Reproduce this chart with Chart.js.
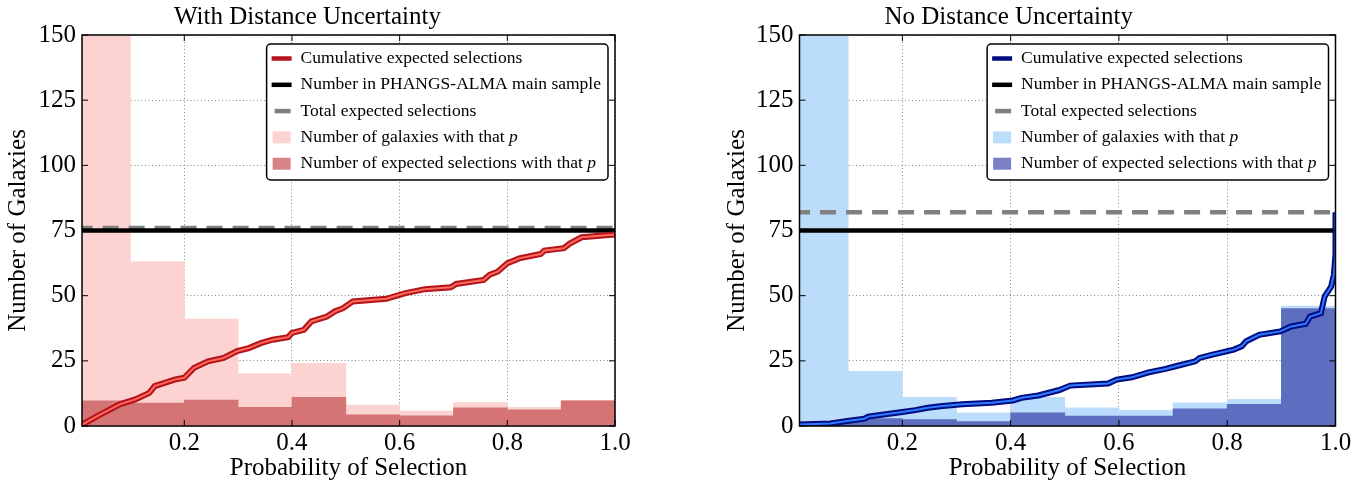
<!DOCTYPE html>
<html>
<head>
<meta charset="utf-8">
<title>Probability of Selection</title>
<script src="https://cdn.jsdelivr.net/npm/chart.js@4.4.0/dist/chart.umd.min.js"></script>
<style>
    html, body { margin: 0; padding: 0; background: #fff; }
    .wrap { display: flex; width: 1364px; height: 487px; }
    .panel { width: 682px; height: 487px; }
</style>
</head>
<body>
<div class="wrap">
    <div class="panel"><canvas id="withDistChart" width="682" height="487"></canvas></div>
    <div class="panel"><canvas id="noDistChart" width="682" height="487"></canvas></div>
</div>
<script>
// histogram bins (centre of each 0.1 wide bin)
const binCenters = [0.05, 0.15, 0.25, 0.35, 0.45, 0.55, 0.65, 0.75, 0.85, 0.95];
const xTicks = [0.2, 0.4, 0.6, 0.8, 1.0];
const yTicks = [0, 25, 50, 75, 100, 125, 150];

// with distance uncertainty
const galaxiesWithDist = [230, 63, 41, 20, 24, 8, 5.8, 9, 7.2, 9.8];
const expectedWithDist = [9.7, 8.8, 9.9, 7.2, 11, 4.3, 3.9, 7, 6.2, 9.7];
const cumPWithDist = [0.011, 0.04, 0.08, 0.109, 0.135, 0.145, 0.182, 0.2, 0.218, 0.244, 0.273, 0.298, 0.32, 0.342, 0.364, 0.393, 0.4, 0.422, 0.436, 0.465, 0.48, 0.495, 0.513, 0.575, 0.611, 0.647, 0.695, 0.705, 0.756, 0.767, 0.782, 0.8, 0.822, 0.862, 0.869, 0.905, 0.916, 0.938, 1.0];
const cumNWithDist = [0.6, 4, 8.3, 10.2, 12.7, 15.3, 17.8, 18.5, 22.3, 24.8, 26.1, 28.7, 29.9, 31.8, 33.1, 34.1, 35.7, 36.9, 40.1, 42, 44, 45.2, 47.8, 48.8, 51, 52.5, 53.2, 54.5, 56, 58, 59.2, 62.4, 64.3, 66, 67.3, 68.2, 70, 72.4, 73.5];
const totalWithDist = 76;

// no distance uncertainty
const galaxiesNoDist = [290, 21, 11, 5.1, 11, 7, 6, 8.9, 10.2, 46];
const expectedNoDist = [0.8, 2.8, 2.5, 1.7, 5.1, 3.8, 3.8, 6.6, 8.3, 45];
const cumPNoDist = [0.008, 0.067, 0.098, 0.13, 0.137, 0.169, 0.2, 0.224, 0.247, 0.27, 0.31, 0.365, 0.404, 0.42, 0.451, 0.49, 0.51, 0.58, 0.596, 0.624, 0.655, 0.686, 0.71, 0.741, 0.749, 0.773, 0.812, 0.827, 0.835, 0.859, 0.898, 0.918, 0.945, 0.953, 0.973, 0.98, 0.992, 0.997, 1.0, 1.0];
const cumNNoDist = [0.6, 1, 1.9, 2.8, 3.6, 4.5, 5.4, 6.1, 7, 7.6, 8.3, 8.9, 9.8, 10.8, 11.7, 13.8, 15.5, 16.3, 17.8, 18.7, 20.6, 21.9, 23.2, 24.8, 26.1, 27.4, 29.3, 30.6, 32.5, 35, 36.3, 38.2, 39.2, 42, 43.3, 49.7, 53.5, 58, 66, 82];
const totalNoDist = 82;

// PHANGS-ALMA main sample size
const mainSample = 75;

const legendLabels = ['Cumulative expected selections', 'Number in PHANGS-ALMA main sample', 'Total expected selections', 'Number of galaxies with that ', 'Number of expected selections with that '];

const serif = "'Liberation Serif', 'DejaVu Serif', serif";
Chart.defaults.font.family = serif;
Chart.defaults.color = '#000';

// frame, inward ticks and boxed legend (matplotlib look)
const framePlugin = {
    id: 'frame',
    afterDraw(chart) {
        const ctx = chart.ctx;
        const area = chart.chartArea;
        const xs = chart.scales.x;
        const ys = chart.scales.y;
        ctx.save();
        ctx.strokeStyle = '#000';
        ctx.lineWidth = 1;
        ctx.beginPath();
        xs.ticks.forEach(function (t) {
            const px = xs.getPixelForValue(t.value);
            ctx.moveTo(px, area.bottom); ctx.lineTo(px, area.bottom - 6);
            ctx.moveTo(px, area.top); ctx.lineTo(px, area.top + 6);
        });
        ys.ticks.forEach(function (t) {
            const py = ys.getPixelForValue(t.value);
            ctx.moveTo(area.left, py); ctx.lineTo(area.left + 6, py);
            ctx.moveTo(area.right, py); ctx.lineTo(area.right - 6, py);
        });
        ctx.stroke();
        ctx.lineWidth = 1.5;
        ctx.strokeRect(area.left, area.top, area.right - area.left, area.bottom - area.top);

        // legend
        const items = chart.data.datasets.filter(d => d.legendText).sort((a, b) => a.legendIndex - b.legendIndex);
        const font = '17.5px ' + serif;
        const italic = 'italic 17.5px ' + serif;
        let maxW = 0;
        items.forEach(function (d) {
            ctx.font = font;
            let w = ctx.measureText(d.legendText).width;
            if (d.legendItalic) {
                ctx.font = italic;
                w += ctx.measureText(d.legendItalic).width;
            }
            maxW = Math.max(maxW, w);
        });
        const boxW = 34 + maxW + 7;
        const boxH = 136;
        const bx = area.right - 7 - boxW;
        const by = area.top + 9;
        ctx.fillStyle = '#fff';
        ctx.strokeStyle = '#000';
        ctx.lineWidth = 1.5;
        ctx.beginPath();
        ctx.roundRect(bx, by, boxW, boxH, 4);
        ctx.fill();
        ctx.stroke();
        items.forEach(function (d, i) {
            const cy = by + 14.5 + i * 26.3;
            if (d.legendKind === 'box') {
                ctx.fillStyle = d.legendColor;
                ctx.fillRect(bx + 6, cy - 6, 18, 12);
            } else {
                ctx.strokeStyle = d.legendColor;
                ctx.lineWidth = 4.5;
                ctx.beginPath();
                if (d.legendKind === 'dash') {
                    ctx.moveTo(bx + 8, cy); ctx.lineTo(bx + 24, cy);
                } else {
                    ctx.moveTo(bx + 5, cy); ctx.lineTo(bx + 25, cy);
                }
                ctx.stroke();
            }
            ctx.fillStyle = '#000';
            ctx.textBaseline = 'middle';
            ctx.textAlign = 'left';
            ctx.font = font;
            ctx.fillText(d.legendText, bx + 34, cy);
            if (d.legendItalic) {
                const w = ctx.measureText(d.legendText).width;
                ctx.font = italic;
                ctx.fillText(d.legendItalic, bx + 34 + w, cy);
            }
        });
        ctx.restore();
    }
};

function toPoints(xs, ys) {
    return xs.map((x, i) => ({ x: x, y: ys[i] }));
}

function buildDatasets(galaxies, expected, cumP, cumN, total, colors) {
    return [
        {   // curve, bright core
            type: 'line', data: toPoints(cumP, cumN), borderColor: colors.curveCore, borderWidth: 2,
            pointRadius: 0, order: 0, clip: 0
        },
        {   // curve, dark outline
            type: 'line', data: toPoints(cumP, cumN), borderColor: colors.curve, borderWidth: 6,
            pointRadius: 0, order: 1, clip: 0,
            legendText: legendLabels[0], legendKind: 'line', legendColor: colors.curve, legendIndex: 0
        },
        {
            type: 'line', data: toPoints([0, 1], [mainSample, mainSample]), borderColor: '#000', borderWidth: 4.5,
            pointRadius: 0, order: 2, clip: 0,
            legendText: legendLabels[1], legendKind: 'line', legendColor: '#000', legendIndex: 1
        },
        {
            type: 'line', data: toPoints([0, 1], [total, total]), borderColor: '#808080', borderWidth: 4.5,
            borderDash: [16, 10], pointRadius: 0, order: 3, clip: 0,
            legendText: legendLabels[2], legendKind: 'dash', legendColor: '#808080', legendIndex: 2
        },
        {
            type: 'bar', data: toPoints(binCenters, expected), backgroundColor: colors.dark, borderWidth: 0,
            grouped: false, barPercentage: 1, categoryPercentage: 1, order: 5, clip: 0,
            legendText: legendLabels[4], legendItalic: 'p', legendKind: 'box', legendColor: colors.darkLegend, legendIndex: 4
        },
        {
            type: 'bar', data: toPoints(binCenters, galaxies), backgroundColor: colors.light, borderWidth: 0,
            grouped: false, barPercentage: 1, categoryPercentage: 1, order: 6, clip: 0,
            legendText: legendLabels[3], legendItalic: 'p', legendKind: 'box', legendColor: colors.light, legendIndex: 3
        }
    ];
}

function initializeChart(chartEl, title, datasets, geom) {
    return new Chart(chartEl, {
        type: 'line',
        data: { datasets: datasets },
        plugins: [framePlugin],
        options: {
            responsive: false,
            animation: false,
            devicePixelRatio: 1,
            layout: { padding: { left: 0, right: geom.right, top: 0, bottom: 0 } },
            plugins: {
                legend: { display: false },
                tooltip: { enabled: false },
                title: {
                    display: true, text: title, color: '#000',
                    font: { size: 25, weight: 'normal', lineHeight: 1.2 },
                    padding: { top: 2, bottom: 3 }
                }
            },
            scales: {
                x: {
                    type: 'linear', min: 0.01, max: 1.0, offset: false, z: 1,
                    afterBuildTicks: s => { s.ticks = xTicks.map(v => ({ value: v })); },
                    afterFit: s => { s.height = 61; },
                    grid: { color: '#888', lineWidth: 1, drawTicks: false, offset: false },
                    border: { display: false, dash: [1, 2.5] },
                    ticks: { font: { size: 25 }, color: '#000', padding: 2, autoSkip: false, maxRotation: 0,
                        callback: v => Number(v).toFixed(1) },
                    title: { display: true, text: 'Probability of Selection', color: '#000',
                        font: { size: 25, lineHeight: 1.2 }, padding: { top: 0, bottom: 4 } }
                },
                y: {
                    type: 'linear', min: 0, max: 150, z: 1,
                    afterBuildTicks: s => { s.ticks = yTicks.map(v => ({ value: v })); },
                    afterFit: s => { s.width = geom.left; },
                    grid: { color: '#888', lineWidth: 1, drawTicks: false },
                    border: { display: false, dash: [1, 2.5] },
                    ticks: { font: { size: 25 }, color: '#000', padding: 6, autoSkip: false },
                    title: { display: true, text: 'Number of Galaxies', color: '#000',
                        font: { size: 25, lineHeight: 1.2 }, padding: { top: geom.yTitle, bottom: 0 } }
                }
            }
        }
    });
}

const withDistColors = { curve: '#b3141c', curveCore: '#ff6a5a', light: '#fdd3d2', dark: '#d47474', darkLegend: '#d88486' };
const noDistColors = { curve: '#000c80', curveCore: '#2f7bff', light: '#bbddfb', dark: '#5d6dbf', darkLegend: '#7a80c6' };

const withDistChartEl = document.getElementById('withDistChart').getContext('2d');
const noDistChartEl = document.getElementById('noDistChart').getContext('2d');

initializeChart(withDistChartEl, 'With Distance Uncertainty',
    buildDatasets(galaxiesWithDist, expectedWithDist, cumPWithDist, cumNWithDist, totalWithDist, withDistColors),
    { left: 82, right: 67, yTitle: 3 });

initializeChart(noDistChartEl, 'No Distance Uncertainty',
    buildDatasets(galaxiesNoDist, expectedNoDist, cumPNoDist, cumNNoDist, totalNoDist, noDistColors),
    { left: 117.5, right: 28.5, yTitle: 40 });
</script>
</body>
</html>
